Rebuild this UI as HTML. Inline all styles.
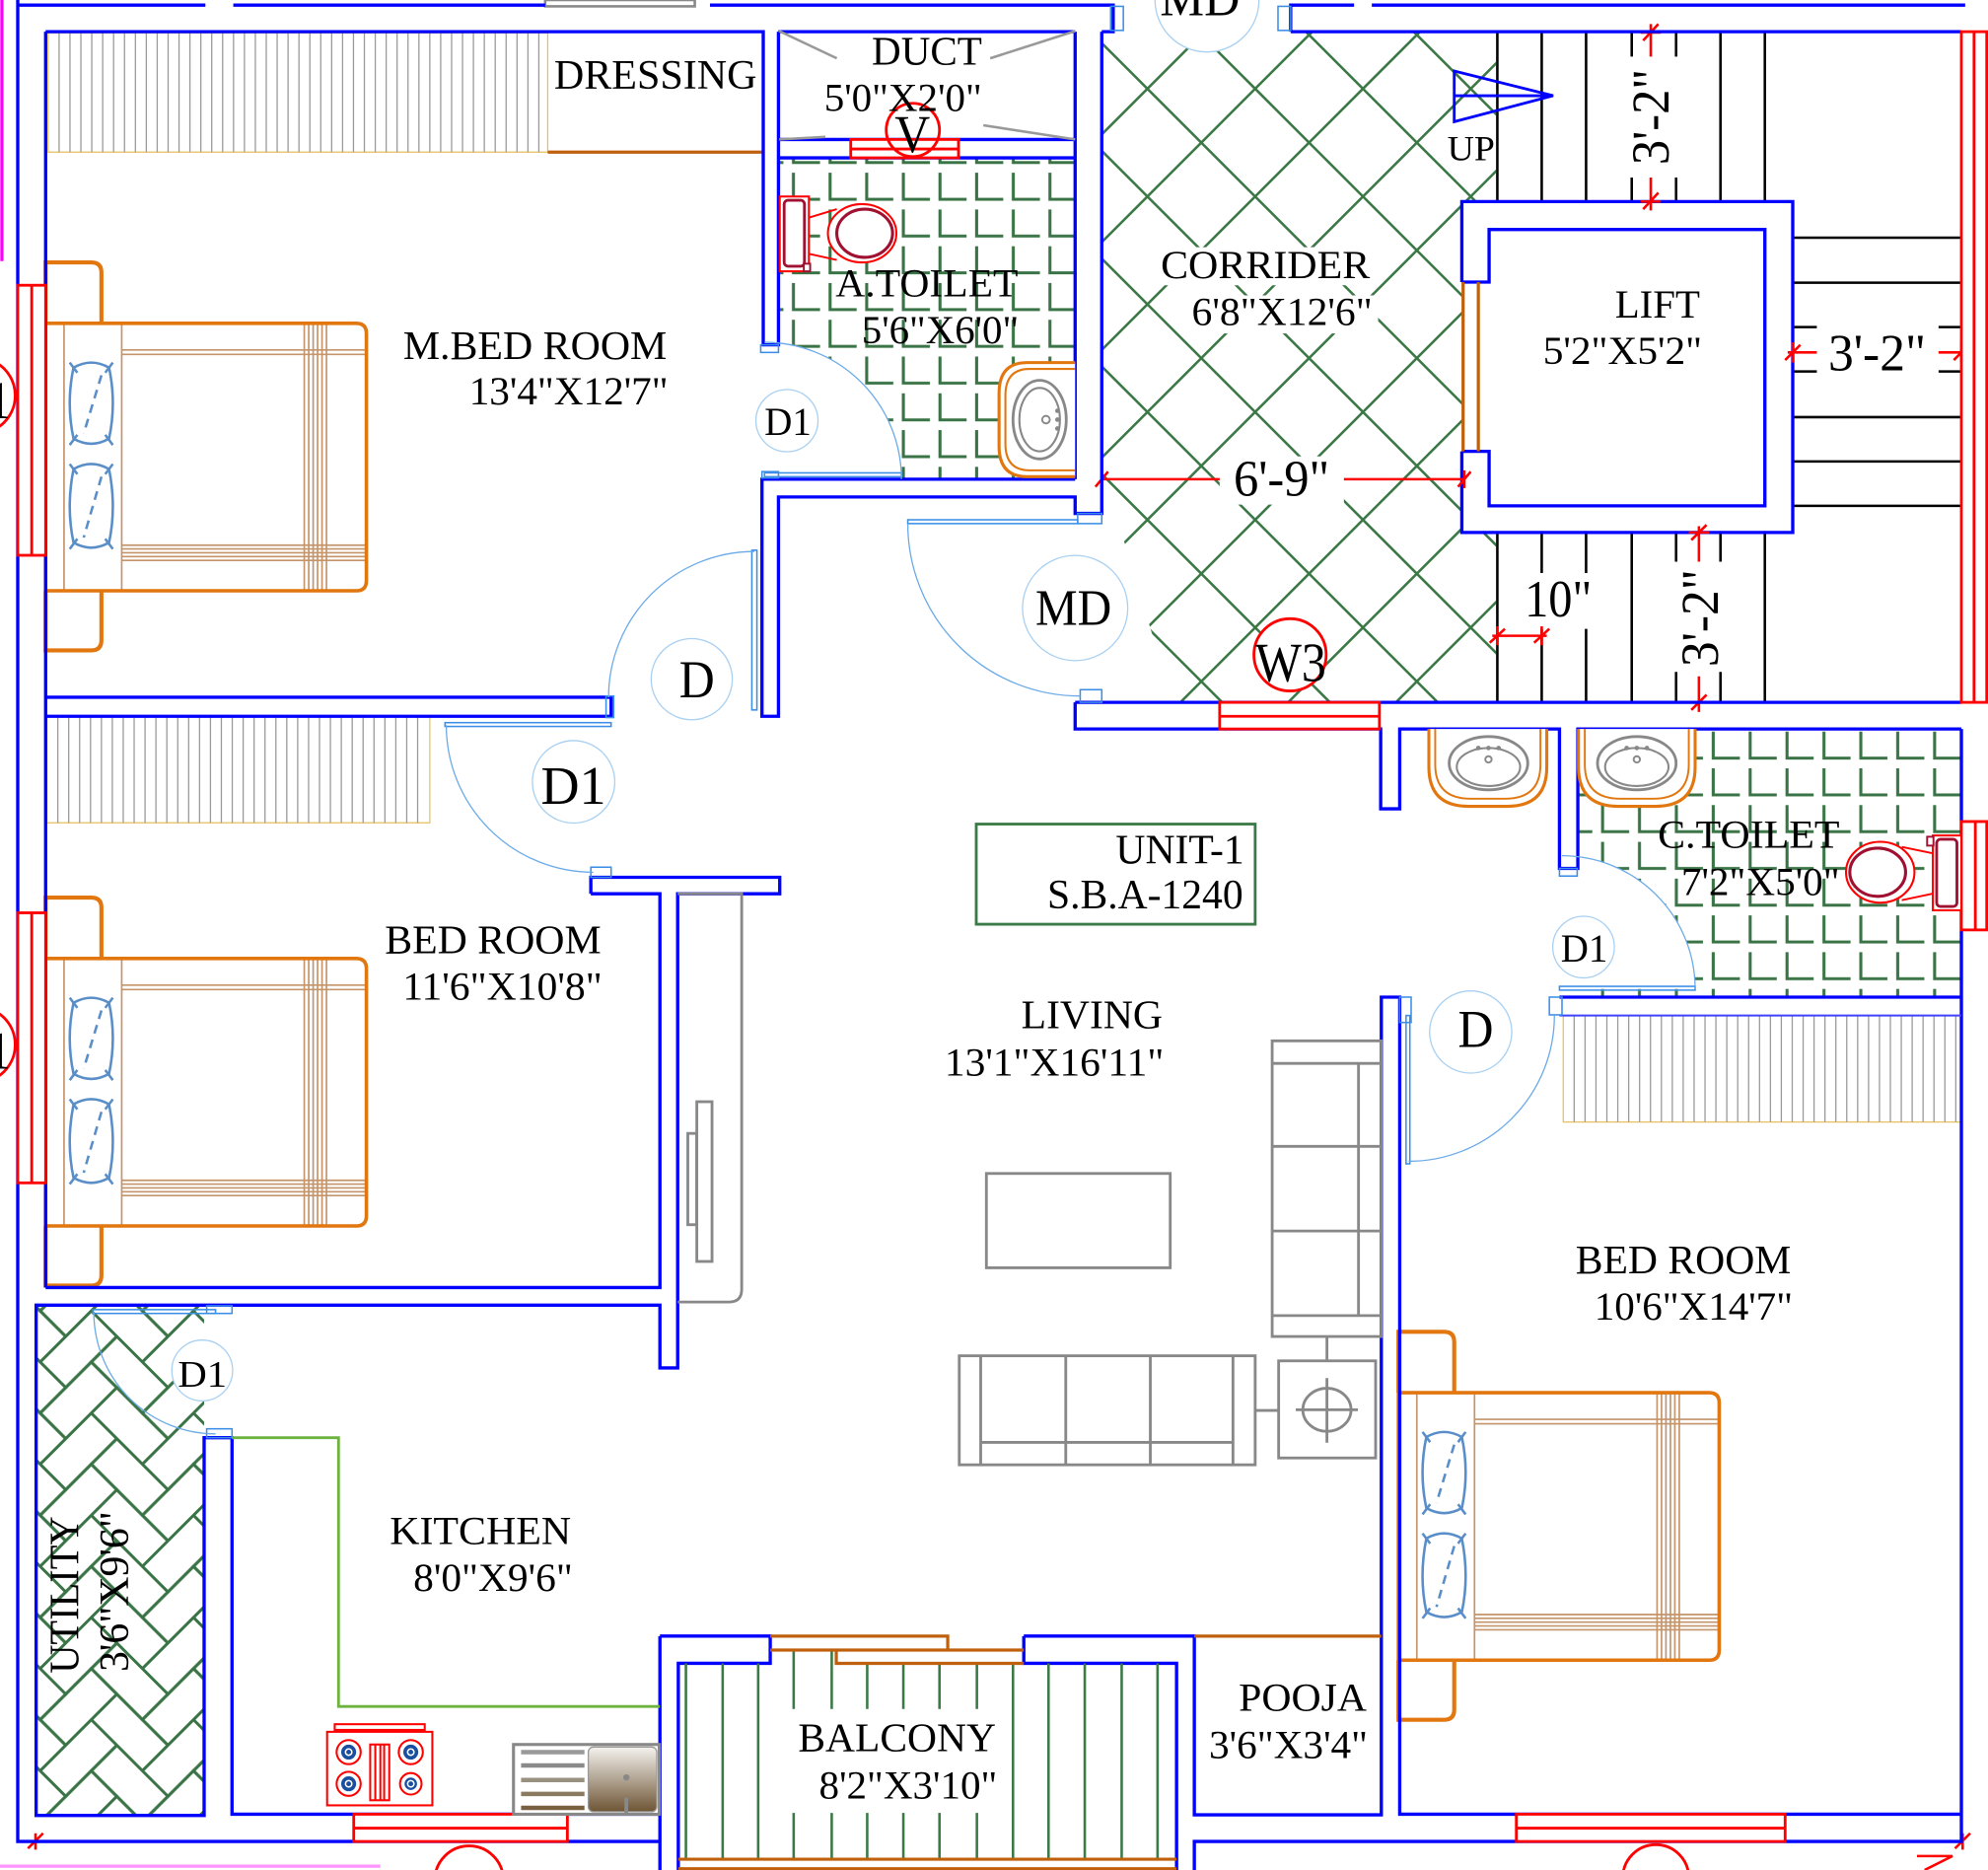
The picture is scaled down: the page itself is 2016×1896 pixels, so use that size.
<!DOCTYPE html>
<html><head><meta charset="utf-8">
<style>
html,body{margin:0;padding:0;background:#fff;}
svg{display:block;}
text{font-family:"Liberation Serif","DejaVu Serif",serif;fill:#000;}
</style></head><body>
<svg width="2016" height="1896" viewBox="0 0 1568 1475" preserveAspectRatio="none" xmlns="http://www.w3.org/2000/svg">
<defs>
 <pattern id="tileA" patternUnits="userSpaceOnUse" x="622.8" y="102.2" width="28.9" height="29">
   <path d="M3,5 V26 H24" fill="none" stroke="#3a7446" stroke-width="2.4"/>
 </pattern>
 <pattern id="tileC" patternUnits="userSpaceOnUse" x="1348.3" y="572" width="29.1" height="29">
   <path d="M3,5 V26 H24" fill="none" stroke="#3a7446" stroke-width="2.4"/>
 </pattern>
 <pattern id="herr" patternUnits="userSpaceOnUse" width="4" height="4" patternTransform="translate(72,1034) rotate(45) scale(28.5)">
   <g fill="none" stroke="#3a7446" stroke-width="0.08">
     <rect x="-1" y="-1" width="1" height="2"/><rect x="-1" y="3" width="1" height="2"/>
     <rect x="0" y="0" width="1" height="2"/><rect x="0" y="4" width="1" height="2"/>
     <rect x="1" y="1" width="1" height="2"/><rect x="2" y="2" width="1" height="2"/>
     <rect x="2" y="-2" width="1" height="2"/><rect x="3" y="3" width="1" height="2"/>
     <rect x="3" y="-1" width="1" height="2"/><rect x="4" y="0" width="1" height="2"/>
     <rect x="4" y="4" width="1" height="2"/>
     <rect x="0" y="-1" width="2" height="1"/><rect x="4" y="-1" width="2" height="1"/>
     <rect x="1" y="0" width="2" height="1"/><rect x="2" y="1" width="2" height="1"/>
     <rect x="-2" y="1" width="2" height="1"/><rect x="3" y="2" width="2" height="1"/>
     <rect x="-1" y="2" width="2" height="1"/><rect x="4" y="3" width="2" height="1"/>
     <rect x="0" y="3" width="2" height="1"/><rect x="1" y="4" width="2" height="1"/>
   </g>
 </pattern>
 <clipPath id="corrClip">
   <polygon points="869,25 1180,25 1180,554 925,554 886,425 869,405"/>
 </clipPath>
 <linearGradient id="sinkG" x1="0" y1="0" x2="0" y2="1">
   <stop offset="0" stop-color="#f4f2ee"/><stop offset="1" stop-color="#6e5535"/>
 </linearGradient>
 <g id="bed">
   <path d="M36,255 V207 H72 Q80,207 80,215 V255" fill="none" stroke="#e2760f" stroke-width="3.2"/>
   <path d="M36,466 V513 H72 Q80,513 80,505 V466" fill="none" stroke="#e2760f" stroke-width="3.2"/>
   <g stroke="#c4946a" stroke-width="1.3" fill="none">
     <path d="M50.5,255 V466 M96,255 V466"/>
     <path d="M96,276 H289 M96,279.5 H289"/>
     <path d="M96,430 H289 M96,433 H289 M96,436 H289 M96,439 H289 M96,442 H289"/>
     <path d="M240,255 V466 M243.5,255 V466 M247,255 V466 M250.5,255 V466 M254,255 V466 M257.5,255 V466"/>
   </g>
   <path d="M36,255 H281 Q289,255 289,263 V458 Q289,466 281,466 H36 Z" fill="none" stroke="#e2760f" stroke-width="2.8"/>
   <g fill="none" stroke="#5a8ec8" stroke-width="2">
     <path d="M58,290 Q72,282 86,290 Q92,318 86,346 Q72,354 58,346 Q52,318 58,290 Z"/>
     <path d="M55,286 L61,294 M89,286 L83,294 M55,351 L61,343 M89,351 L83,343"/>
     <path d="M80,296 L66,342" stroke-dasharray="7 5"/>
     <path d="M58,370 Q72,362 86,370 Q92,400 86,428 Q72,436 58,428 Q52,400 58,370 Z"/>
     <path d="M55,366 L61,374 M89,366 L83,374 M55,433 L61,425 M89,433 L83,425"/>
     <path d="M80,376 L66,424" stroke-dasharray="7 5"/>
   </g>
 </g>
</defs>

<rect x="0" y="0" width="1568" height="1475" fill="#fff"/>

<!-- edge decorations -->
<path d="M1.5,0 V206" stroke="#ff00ff" stroke-width="2.5"/>
<path d="M0,1472 H300" stroke="#ff66ff" stroke-width="2.5" opacity="0.7"/>
<rect x="430" y="0" width="118" height="5" fill="#fff" stroke="#888" stroke-width="2"/>

<!-- corridor hatch -->
<g clip-path="url(#corrClip)" stroke="#3b7846" stroke-width="2">
  <path d="M325,0 L925,600 M410,0 L1010,600 M495,0 L1095,600 M580,0 L1180,600 M665,0 L1265,600 M750,0 L1350,600 M835,0 L1435,600 M920,0 L1520,600 M1005,0 L1605,600 M1090,0 L1690,600 M1175,0 L1775,600"/>
  <path d="M890,0 L290,600 M975,0 L375,600 M1060,0 L460,600 M1145,0 L545,600 M1230,0 L630,600 M1315,0 L715,600 M1400,0 L800,600 M1485,0 L885,600 M1570,0 L970,600 M1655,0 L1055,600 M1740,0 L1140,600"/>
</g>
<rect x="910" y="195" width="176" height="30" fill="#fff"/>
<rect x="935" y="233" width="152" height="30" fill="#fff"/>
<rect x="962" y="360" width="98" height="38" fill="#fff"/>

<!-- tiles -->
<rect x="614" y="124.5" width="234" height="253.5" fill="url(#tileA)"/>
<path d="M603,378 L711,378 A108 108 0 0 0 603,270 Z" fill="#fff"/>
<rect x="1244.5" y="575" width="302.5" height="211.5" fill="url(#tileC)"/>
<path d="M1232,780 L1337,780 A105 105 0 0 0 1232,675 Z" fill="#fff"/>
<!-- utility herringbone -->
<rect x="28.5" y="1029.5" width="132.5" height="402.5" fill="url(#herr)"/>

<!-- wardrobes -->
<g stroke="#9a9a9a" stroke-width="1">
 <rect x="38" y="26" width="394" height="94" fill="#fff" stroke="#e8c060"/>
 <path d="M46.6,26 V120 M55.2,26 V120 M63.8,26 V120 M72.4,26 V120 M81,26 V120 M89.6,26 V120 M98.2,26 V120 M106.8,26 V120 M115.4,26 V120 M124,26 V120 M132.6,26 V120 M141.2,26 V120 M149.8,26 V120 M158.4,26 V120 M167,26 V120 M175.6,26 V120 M184.2,26 V120 M192.8,26 V120 M201.4,26 V120 M210,26 V120 M218.6,26 V120 M227.2,26 V120 M235.8,26 V120 M244.4,26 V120 M253,26 V120 M261.6,26 V120 M270.2,26 V120 M278.8,26 V120 M287.4,26 V120 M296,26 V120 M304.6,26 V120 M313.2,26 V120 M321.8,26 V120 M330.4,26 V120 M339,26 V120 M347.6,26 V120 M356.2,26 V120 M364.8,26 V120 M373.4,26 V120 M382,26 V120 M390.6,26 V120 M399.2,26 V120 M407.8,26 V120 M416.4,26 V120 M425,26 V120"/>
 <rect x="37" y="565" width="302" height="84" fill="#fff" stroke="#e8c060"/>
 <path d="M45.6,565 V649 M54.2,565 V649 M62.8,565 V649 M71.4,565 V649 M80,565 V649 M88.6,565 V649 M97.2,565 V649 M105.8,565 V649 M114.4,565 V649 M123,565 V649 M131.6,565 V649 M140.2,565 V649 M148.8,565 V649 M157.4,565 V649 M166,565 V649 M174.6,565 V649 M183.2,565 V649 M191.8,565 V649 M200.4,565 V649 M209,565 V649 M217.6,565 V649 M226.2,565 V649 M234.8,565 V649 M243.4,565 V649 M252,565 V649 M260.6,565 V649 M269.2,565 V649 M277.8,565 V649 M286.4,565 V649 M295,565 V649 M303.6,565 V649 M312.2,565 V649 M320.8,565 V649 M329.4,565 V649"/>
 <rect x="1233" y="801" width="314" height="84" fill="#fff" stroke="#e8c060"/>
 <path d="M1241.6,801 V885 M1250.2,801 V885 M1258.8,801 V885 M1267.4,801 V885 M1276,801 V885 M1284.6,801 V885 M1293.2,801 V885 M1301.8,801 V885 M1310.4,801 V885 M1319,801 V885 M1327.6,801 V885 M1336.2,801 V885 M1344.8,801 V885 M1353.4,801 V885 M1362,801 V885 M1370.6,801 V885 M1379.2,801 V885 M1387.8,801 V885 M1396.4,801 V885 M1405,801 V885 M1413.6,801 V885 M1422.2,801 V885 M1430.8,801 V885 M1439.4,801 V885 M1448,801 V885 M1456.6,801 V885 M1465.2,801 V885 M1473.8,801 V885 M1482.4,801 V885 M1491,801 V885 M1499.6,801 V885 M1508.2,801 V885 M1516.8,801 V885 M1525.4,801 V885 M1534,801 V885 M1542.6,801 V885"/>
</g>
<path d="M432,120 H602" stroke="#c0600c" stroke-width="2.5"/>

<!-- beds -->
<use href="#bed"/>
<use href="#bed" transform="translate(0,501)"/>
<use href="#bed" transform="translate(1067,843.5)"/>

<!-- stairs -->
<g stroke="#000" stroke-width="2" fill="none">
 <path d="M1181,25 V159 M1216,25 V159 M1251,25 V159 M1357,25 V159 M1392,25 V159"/>
 <path d="M1287,25 V44.6 M1287,140 V159 M1322,25 V44.6 M1322,140 V159"/>
 <path d="M1181,420 V554 M1216,420 V452 M1216,496 V554 M1251,420 V452 M1251,496 V554 M1287,420 V554 M1392,420 V554"/>
 <path d="M1322,420 V443 M1322,530 V554 M1357,420 V443 M1357,530 V554"/>
 <path d="M1414,187.5 H1547 M1414,223 H1547 M1414,329 H1547 M1414,364 H1547 M1414,399 H1547"/>
 <path d="M1414,258 H1433 M1529,258 H1547 M1414,293 H1433 M1529,293 H1547"/>
</g>

<!-- lift -->
<rect x="1153" y="159" width="261" height="261" fill="#fff"/>
<g fill="none" stroke="#0000ff" stroke-width="2.6">
 <path d="M1153,222.5 V159 H1414 V420 H1153 V356"/>
 <path d="M1153,222.5 H1174.5 V181 H1392 V399 H1174.5 V356 H1153"/>
</g>
<path d="M1154,222.5 V356 M1166,222.5 V356" stroke="#c0600c" stroke-width="2.5"/>

<!-- UP arrow -->
<path d="M1147,56 L1225,75.5 L1147,96 Z M1147,75.5 H1225" fill="none" stroke="#0000ff" stroke-width="2.2"/>

<!-- dimension lines -->
<g stroke="#ff0000" stroke-width="2" fill="none">
 <path d="M869,378 H962 M1060,378 H1155"/>
 <path d="M869,371 V385 M864,384 L874,372 M1155,371 V385 M1150,384 L1160,372"/>
 <path d="M1302,19 V44.6 M1302,140 V166"/>
 <path d="M1294,25.6 H1310 M1296,32 L1308,19 M1294,159 H1310 M1296,165 L1308,152"/>
 <path d="M1410,278 H1433 M1529,278 H1553"/>
 <path d="M1414,270 V286 M1408,284 L1420,272 M1547,270 V286 M1541,284 L1553,272"/>
 <path d="M1340,415 V443 M1340,533.5 V561.6"/>
 <path d="M1332,420 H1348 M1334,426 L1346,414 M1332,554 H1348 M1334,560 L1346,548"/>
 <path d="M1177,501.5 H1220"/>
 <path d="M1181,494 V509 M1175,507 L1187,496 M1216,494 V509 M1210,507 L1222,496"/>
 <path d="M28,1446 V1459 M22,1458 L34,1446"/>
 <path d="M1548,1446 V1459 M1542,1458 L1554,1446 M1512,1464 H1540 L1518,1475"/>
</g>

<!-- walls -->
<g fill="none" stroke="#0000ff" stroke-width="2.6" stroke-linejoin="miter">
 <path d="M14,4 H162 M184,4 H430 M560,4 H878 V25 H869 M1018,25 V4 H1068 M1082,4 H1550"/>
 <path d="M14,0 V1452.5 H521"/>
 <path d="M36,25 V1015.6"/>
 <path d="M36,25 H602 V272 H614 V25 M614,25 H848"/>
 <path d="M614,110 H848 M614,124.5 H848"/>
 <path d="M848,25 V378"/>
 <path d="M869,25 V405 H848 V392 H614 V565 H601 V378 H848"/>
 <path d="M36,550 H482 V565 H36"/>
 <path d="M466,705 V692 H615 V705 H534.5 V1079 H520.5 V1029.5 H28.5 V1432 H161 V1134 H183 V1431 H520.5"/>
 <path d="M466,705 H520.5 V1015.6 H36"/>
 <path d="M520.5,1290.5 V1475 M520.5,1290.5 H607.5 V1312 H535 V1475"/>
 <path d="M807.5,1290.5 V1312 H928 V1475"/>
 <path d="M807.5,1290.5 H942 V1431.5 H1089.5 V786.5 H1104 V1431 H1547"/>
 <path d="M942,1475 V1452.5 H1547 V575"/>
 <path d="M1018,25 H1547"/>
 <path d="M848,554 H1547 M848,554 V575 H1089 V638 H1104 V575 H1230 V685 H1244.5 V575 H1547"/>
 <path d="M1230,786.5 H1547"/>
</g>
<path d="M1230,801 H1547" stroke="#4040ff" stroke-width="1.6"/>
<path d="M942,1290.5 H1089.5" stroke="#c0600c" stroke-width="2.5"/>

<!-- door jambs & leaves (light blue) -->
<g fill="none" stroke="#3a8ee6" stroke-width="1.2">
 <rect x="876" y="5" width="10" height="19"/>
 <rect x="1008" y="5" width="10" height="19"/>
 <rect x="600" y="272" width="14" height="6"/>
 <rect x="601" y="372" width="13" height="5"/>
 <rect x="478" y="549" width="6" height="17"/>
 <rect x="593" y="434" width="4" height="126"/>
 <rect x="603" y="373" width="108" height="3"/>
 <rect x="716" y="410" width="134" height="3"/>
 <rect x="850" y="405" width="19" height="8"/>
 <rect x="852" y="544" width="17" height="10"/>
 <rect x="351" y="570" width="131" height="3"/>
 <rect x="466" y="684" width="16" height="8"/>
 <rect x="1230" y="778" width="107" height="3"/>
 <rect x="1230" y="685" width="14" height="6"/>
 <rect x="1222" y="786.5" width="10" height="14"/>
 <rect x="1104" y="786.5" width="9" height="20"/>
 <rect x="1109" y="801" width="3" height="117"/>
 <rect x="73" y="1033" width="97" height="3"/>
 <rect x="163" y="1030" width="20" height="6"/>
 <rect x="163" y="1127" width="20" height="7"/>
</g>
<g fill="none" stroke="#6aaae8" stroke-width="1">
 <path d="M480,550 A115 115 0 0 1 595,435"/>
 <path d="M711,378 A108 108 0 0 0 603,270"/>
 <path d="M716,413 A136 136 0 0 0 852,549"/>
 <path d="M352,572 A116 116 0 0 0 468,688"/>
 <path d="M1337,780 A105 105 0 0 0 1232,675"/>
 <path d="M1111,916 A115 115 0 0 0 1226,801"/>
 <path d="M74,1035 A96 96 0 0 0 170,1131"/>
</g>

<!-- windows -->
<g fill="#fff" stroke="#ff0000" stroke-width="2.2">
 <rect x="14" y="225" width="22" height="213"/><path d="M25,225 V438"/>
 <rect x="14" y="720" width="22" height="213"/><path d="M25,720 V933"/>
 <rect x="671" y="110" width="85" height="14.5"/><path d="M671,117.5 H756"/>
 <rect x="962" y="554" width="126" height="21"/><path d="M962,565 H1088"/>
 <rect x="1547" y="25" width="20" height="529"/><path d="M1557,25 V554"/>
 <rect x="1547" y="648" width="20" height="85.5"/><path d="M1558,648 V733.5"/>
 <rect x="279" y="1431" width="168.5" height="21.5"/><path d="M279,1442 H447.5"/>
 <rect x="1196" y="1431" width="212" height="21.5"/><path d="M1196,1442 H1408"/>
</g>

<!-- duct lines -->
<path d="M614.6,24.5 L660,46 M848,24.5 L781,46 M614.6,110 L651,108 M848,110 L775.6,98.8" stroke="#999" stroke-width="2"/>

<!-- A.toilet WC -->
<g fill="#fff">
 <path d="M637,172 L660,165 M637,200 L660,205" stroke="#ff0000" stroke-width="1.5"/>
 <ellipse cx="680" cy="184" rx="27" ry="23" stroke="#ff0000" stroke-width="1.6"/>
 <ellipse cx="682" cy="184" rx="22" ry="19" stroke="#a01030" stroke-width="2.4"/>
 <rect x="615" y="155" width="23" height="59" stroke="#ff0000" stroke-width="1.6"/>
 <rect x="618.5" y="158" width="16" height="52" rx="3" stroke="#a01030" stroke-width="2.2"/>
 <rect x="634" y="208" width="5" height="6" stroke="#a01030" stroke-width="1.5"/>
</g>
<!-- A.toilet basin -->
<path d="M848,286 H810 Q788,286 788,310 V352 Q788,376 810,376 H848" fill="#fff" stroke="#e2760f" stroke-width="2.4"/>
<path d="M848,291 H812 Q793,291 793,312 V350 Q793,371 812,371 H848" fill="none" stroke="#e2760f" stroke-width="1.6"/>
<ellipse cx="820" cy="331" rx="21" ry="31" fill="#fff" stroke="#888" stroke-width="2.2"/>
<ellipse cx="820" cy="331" rx="16" ry="25" fill="none" stroke="#888" stroke-width="1.6"/>
<circle cx="825" cy="331" r="3" fill="none" stroke="#888" stroke-width="1.5"/>
<circle cx="834" cy="324" r="1.8" fill="#888"/><circle cx="834" cy="331" r="1.8" fill="#888"/><circle cx="834" cy="338" r="1.8" fill="#888"/>

<!-- wash basins -->
<g>
 <path d="M1127,575 V605 Q1127,636 1158,636 H1189 Q1220,636 1220,605 V575" fill="#fff" stroke="#e2760f" stroke-width="2.4"/>
 <path d="M1132,575 V603 Q1132,630 1160,630 H1187 Q1215,630 1215,603 V575" fill="none" stroke="#e2760f" stroke-width="1.5"/>
 <ellipse cx="1174" cy="602" rx="31" ry="21" fill="#fff" stroke="#888" stroke-width="2.2"/>
 <ellipse cx="1174" cy="605" rx="25" ry="15" fill="none" stroke="#888" stroke-width="1.6"/>
 <circle cx="1174" cy="599" r="2.5" fill="none" stroke="#888" stroke-width="1.5"/>
 <circle cx="1166" cy="590" r="1.8" fill="#888"/><circle cx="1174" cy="590" r="1.8" fill="#888"/><circle cx="1182" cy="590" r="1.8" fill="#888"/>
 <path d="M1245,575 V605 Q1245,636 1276,636 H1306 Q1337,636 1337,605 V575" fill="#fff" stroke="#e2760f" stroke-width="2.4"/>
 <path d="M1250,575 V603 Q1250,630 1278,630 H1304 Q1332,630 1332,603 V575" fill="none" stroke="#e2760f" stroke-width="1.5"/>
 <ellipse cx="1291" cy="602" rx="31" ry="21" fill="#fff" stroke="#888" stroke-width="2.2"/>
 <ellipse cx="1291" cy="605" rx="25" ry="15" fill="none" stroke="#888" stroke-width="1.6"/>
 <circle cx="1291" cy="599" r="2.5" fill="none" stroke="#888" stroke-width="1.5"/>
 <circle cx="1283" cy="590" r="1.8" fill="#888"/><circle cx="1291" cy="590" r="1.8" fill="#888"/><circle cx="1299" cy="590" r="1.8" fill="#888"/>
</g>
<!-- C.toilet WC -->
<g fill="#fff">
 <path d="M1524,673 L1500,668 M1524,705 L1500,710" stroke="#ff0000" stroke-width="1.5"/>
 <ellipse cx="1483" cy="688" rx="27" ry="24" stroke="#ff0000" stroke-width="1.6"/>
 <ellipse cx="1481" cy="688" rx="22" ry="19" stroke="#a01030" stroke-width="2.4"/>
 <rect x="1524.5" y="659" width="22.5" height="59" stroke="#ff0000" stroke-width="1.6"/>
 <rect x="1527.5" y="662" width="16" height="53" rx="3" stroke="#a01030" stroke-width="2.2"/>
 <rect x="1520" y="660" width="5" height="7" stroke="#a01030" stroke-width="1.5"/>
</g>

<!-- living furniture -->
<g fill="none" stroke="#888" stroke-width="2.2">
 <path d="M534.5,705 H585 V1017 Q585,1027 575,1027 H534.5"/>
 <rect x="549.6" y="869" width="12" height="126"/>
 <rect x="542.5" y="894" width="7" height="72"/>
 <rect x="778" y="925.6" width="145" height="74.4"/>
 <rect x="1003.4" y="821" width="86" height="233.2"/>
 <path d="M1003.4,838.8 H1089.4 M1003.4,1037.7 H1089.4 M1071.5,838.8 V1037.7 M1003.4,904.2 H1089.4 M1003.4,971 H1089.4"/>
 <path d="M1046.6,1054.2 V1073.4"/>
 <rect x="1008.5" y="1073.4" width="76.5" height="76.6"/>
 <ellipse cx="1046.6" cy="1112" rx="19" ry="17"/>
 <path d="M1022,1112 H1071 M1046.6,1087 V1138"/>
 <rect x="756.6" y="1069.4" width="233.4" height="86"/>
 <path d="M773.5,1069.4 V1155.4 M972.5,1069.4 V1155.4 M773.5,1137.7 H972.5 M840.6,1069.4 V1155.4 M907.3,1069.4 V1155.4"/>
 <path d="M990,1112.5 H1008.5"/>
</g>

<!-- kitchen counter -->
<path d="M183,1134 H267 V1346 H520.5" fill="none" stroke="#6db33f" stroke-width="2.2"/>
<!-- stove -->
<g fill="#fff" stroke="#ff0000" stroke-width="1.6">
 <rect x="264" y="1360" width="71" height="4.5"/>
 <path d="M272,1364.5 V1366 M327,1364.5 V1366"/>
 <rect x="258" y="1366" width="83" height="58"/>
 <rect x="292" y="1376" width="15" height="44"/>
 <path d="M296,1376 V1420 M300,1376 V1420 M303,1376 V1420"/>
 <circle cx="275" cy="1382" r="9.5"/><circle cx="324" cy="1382" r="9.5"/>
 <circle cx="275" cy="1407" r="9.5"/><circle cx="324" cy="1407" r="8.5"/>
</g>
<g fill="#1a4fa0" stroke="#fff" stroke-width="1.2">
 <circle cx="275" cy="1382" r="6.5"/><circle cx="324" cy="1382" r="6.5"/>
 <circle cx="275" cy="1407" r="6.5"/><circle cx="324" cy="1407" r="5.5"/>
 <circle cx="275" cy="1382" r="2.5"/><circle cx="324" cy="1382" r="2.5"/>
 <circle cx="275" cy="1407" r="2.5"/><circle cx="324" cy="1407" r="2.5"/>
</g>
<!-- sink -->
<rect x="405" y="1376" width="115" height="55" fill="#fff" stroke="#888" stroke-width="2.4"/>
<g stroke-width="3.5">
 <path d="M411,1382 H461" stroke="#999"/>
 <path d="M411,1392.5 H461" stroke="#8a8a8a"/>
 <path d="M411,1404 H461" stroke="#9a9080"/>
 <path d="M411,1415 H461" stroke="#8a7a60"/>
 <path d="M411,1426 H461" stroke="#7a6040"/>
</g>
<rect x="464" y="1378" width="54" height="51" rx="4" fill="url(#sinkG)" stroke="#999" stroke-width="1"/>
<circle cx="494" cy="1402" r="2.5" fill="#888"/>
<path d="M494,1418 V1431" stroke="#888" stroke-width="3"/>

<!-- balcony -->
<g stroke="#3a7a46" stroke-width="2">
 <path d="M541,1312 V1466 M570,1312 V1466 M598,1312 V1466"/>
 <path d="M626,1301.5 V1348 M626,1430 V1466 M656,1301.5 V1348 M656,1430 V1466"/>
 <path d="M684,1312 V1348 M684,1430 V1466 M712.5,1312 V1348 M712.5,1430 V1466 M741,1312 V1348 M741,1430 V1466 M770.5,1312 V1348 M770.5,1430 V1466"/>
 <path d="M799,1312 V1466 M827,1312 V1466 M855.6,1312 V1466 M884.7,1312 V1466 M913,1312 V1466"/>
</g>
<g fill="none" stroke="#c0600c" stroke-width="2.5">
 <path d="M607.5,1290.5 H747.5 V1301.5 M607.5,1301.5 H807.5 M659.6,1301.5 V1312 H807.5"/>
 <path d="M535,1466.5 H928 M535,1474 H928"/>
</g>

<!-- unit box -->
<rect x="770" y="650" width="220" height="79" fill="#fff" stroke="#3a7a46" stroke-width="2.2"/>

<!-- label circles -->
<g fill="#fff" stroke="#a8d0f2" stroke-width="1">
 <circle cx="545.6" cy="535.7" r="32"/>
 <circle cx="620.7" cy="331.8" r="24.5"/>
 <circle cx="848" cy="479.6" r="41.5"/>
 <circle cx="452.4" cy="616.7" r="32.5"/>
 <circle cx="1249" cy="747" r="24.3"/>
 <circle cx="1160" cy="814" r="32.4"/>
 <circle cx="159.5" cy="1081" r="24"/>
 <circle cx="952" cy="0" r="41"/>
</g>
<g fill="#fff" stroke="#ff0000" stroke-width="2.2">
 <circle cx="720" cy="102.5" r="21" fill="none"/>
 <circle cx="1017.5" cy="516.5" r="28.5"/>
 <circle cx="-18" cy="312" r="30"/>
 <circle cx="-18" cy="824" r="30"/>
 <circle cx="370" cy="1483" r="27"/>
 <circle cx="1306" cy="1481" r="26"/>
</g>

<!-- texts -->
<g>
 <text x="437" y="70" font-size="33" textLength="160" lengthAdjust="spacingAndGlyphs">DRESSING</text>
 <text x="318" y="283" font-size="32" textLength="208" lengthAdjust="spacingAndGlyphs">M.BED ROOM</text>
 <text x="370" y="319" font-size="31" textLength="157" lengthAdjust="spacingAndGlyphs">13'4"X12'7"</text>
 <text x="687.6" y="51" font-size="32" textLength="87" lengthAdjust="spacingAndGlyphs">DUCT</text>
 <text x="650" y="87.5" font-size="31" textLength="124.5" lengthAdjust="spacingAndGlyphs">5'0"X2'0"</text>
 <text x="705.6" y="120" font-size="42" textLength="28" lengthAdjust="spacingAndGlyphs">V</text>
 <text x="659" y="233.7" font-size="31" textLength="144" lengthAdjust="spacingAndGlyphs">A.TOILET</text>
 <text x="679.6" y="270.7" font-size="31" textLength="124" lengthAdjust="spacingAndGlyphs">5'6"X6'0"</text>
 <text x="603" y="343" font-size="31" textLength="37" lengthAdjust="spacingAndGlyphs">D1</text>
 <text x="915.5" y="219.5" font-size="31" textLength="165" lengthAdjust="spacingAndGlyphs">CORRIDER</text>
 <text x="940" y="256.4" font-size="31" textLength="142.5" lengthAdjust="spacingAndGlyphs">6'8"X12'6"</text>
 <text x="973" y="391" font-size="40" textLength="75.6" lengthAdjust="spacingAndGlyphs">6'-9"</text>
 <text x="816.7" y="493" font-size="40" textLength="60" lengthAdjust="spacingAndGlyphs">MD</text>
 <text x="990" y="537" font-size="44" textLength="56" lengthAdjust="spacingAndGlyphs">W3</text>
 <text x="1141.5" y="126.3" font-size="28" textLength="37.5" lengthAdjust="spacingAndGlyphs">UP</text>
 <text x="1273.8" y="250.7" font-size="31" textLength="67" lengthAdjust="spacingAndGlyphs">LIFT</text>
 <text x="1217" y="287" font-size="31" textLength="125.5" lengthAdjust="spacingAndGlyphs">5'2"X5'2"</text>
 <text x="1442" y="292" font-size="41" textLength="77" lengthAdjust="spacingAndGlyphs">3'-2"</text>
 <text x="1202.5" y="486.3" font-size="41" textLength="53" lengthAdjust="spacingAndGlyphs">10"</text>
 <text transform="translate(1316,130) rotate(-90)" font-size="42" textLength="75.5" lengthAdjust="spacingAndGlyphs">3'-2"</text>
 <text transform="translate(1355,526) rotate(-90)" font-size="42" textLength="77" lengthAdjust="spacingAndGlyphs">3'-2"</text>
 <text x="1307.5" y="668.7" font-size="31" textLength="143.5" lengthAdjust="spacingAndGlyphs">C.TOILET</text>
 <text x="1326" y="706" font-size="31" textLength="125" lengthAdjust="spacingAndGlyphs">7'2"X5'0"</text>
 <text x="1231" y="758.7" font-size="31" textLength="37" lengthAdjust="spacingAndGlyphs">D1</text>
 <text x="1150" y="825.7" font-size="42" textLength="28" lengthAdjust="spacingAndGlyphs">D</text>
 <text x="1242.7" y="1004.5" font-size="32" textLength="170" lengthAdjust="spacingAndGlyphs">BED ROOM</text>
 <text x="1257.5" y="1041" font-size="31" textLength="156.5" lengthAdjust="spacingAndGlyphs">10'6"X14'7"</text>
 <text x="880" y="681" font-size="33" textLength="101.3" lengthAdjust="spacingAndGlyphs">UNIT-1</text>
 <text x="826" y="716.6" font-size="33" textLength="154.5" lengthAdjust="spacingAndGlyphs">S.B.A-1240</text>
 <text x="805.5" y="811" font-size="32" textLength="111.5" lengthAdjust="spacingAndGlyphs">LIVING</text>
 <text x="745" y="848.4" font-size="31" textLength="173" lengthAdjust="spacingAndGlyphs">13'1"X16'11"</text>
 <text x="535.7" y="550" font-size="42" textLength="28" lengthAdjust="spacingAndGlyphs">D</text>
 <text x="426.6" y="634" font-size="43" textLength="51.4" lengthAdjust="spacingAndGlyphs">D1</text>
 <text x="303.5" y="751.7" font-size="32" textLength="170.7" lengthAdjust="spacingAndGlyphs">BED ROOM</text>
 <text x="317.5" y="788.5" font-size="31" textLength="157.5" lengthAdjust="spacingAndGlyphs">11'6"X10'8"</text>
 <text x="140.3" y="1094" font-size="30" textLength="38.7" lengthAdjust="spacingAndGlyphs">D1</text>
 <text x="307.4" y="1218" font-size="31" textLength="143" lengthAdjust="spacingAndGlyphs">KITCHEN</text>
 <text x="326" y="1255" font-size="31" textLength="125.7" lengthAdjust="spacingAndGlyphs">8'0"X9'6"</text>
 <text transform="translate(62,1320) rotate(-90)" font-size="33" textLength="124" lengthAdjust="spacingAndGlyphs">UTILITY</text>
 <text transform="translate(101,1318.6) rotate(-90)" font-size="33" textLength="126.6" lengthAdjust="spacingAndGlyphs">3'6"X9'6"</text>
 <text x="629.5" y="1381.3" font-size="32" textLength="156" lengthAdjust="spacingAndGlyphs">BALCONY</text>
 <text x="646" y="1418.5" font-size="31" textLength="140.6" lengthAdjust="spacingAndGlyphs">8'2"X3'10"</text>
 <text x="977" y="1349.5" font-size="31" textLength="101" lengthAdjust="spacingAndGlyphs">POOJA</text>
 <text x="953.6" y="1386.6" font-size="31" textLength="125.2" lengthAdjust="spacingAndGlyphs">3'6"X3'4"</text>
 <text x="915" y="12" font-size="40" textLength="63" lengthAdjust="spacingAndGlyphs">MD</text>
 <text x="-40" y="330" font-size="42" textLength="48" lengthAdjust="spacingAndGlyphs">W1</text>
 <text x="-40" y="843" font-size="42" textLength="48" lengthAdjust="spacingAndGlyphs">W1</text>
</g>
</svg>
</body></html>
